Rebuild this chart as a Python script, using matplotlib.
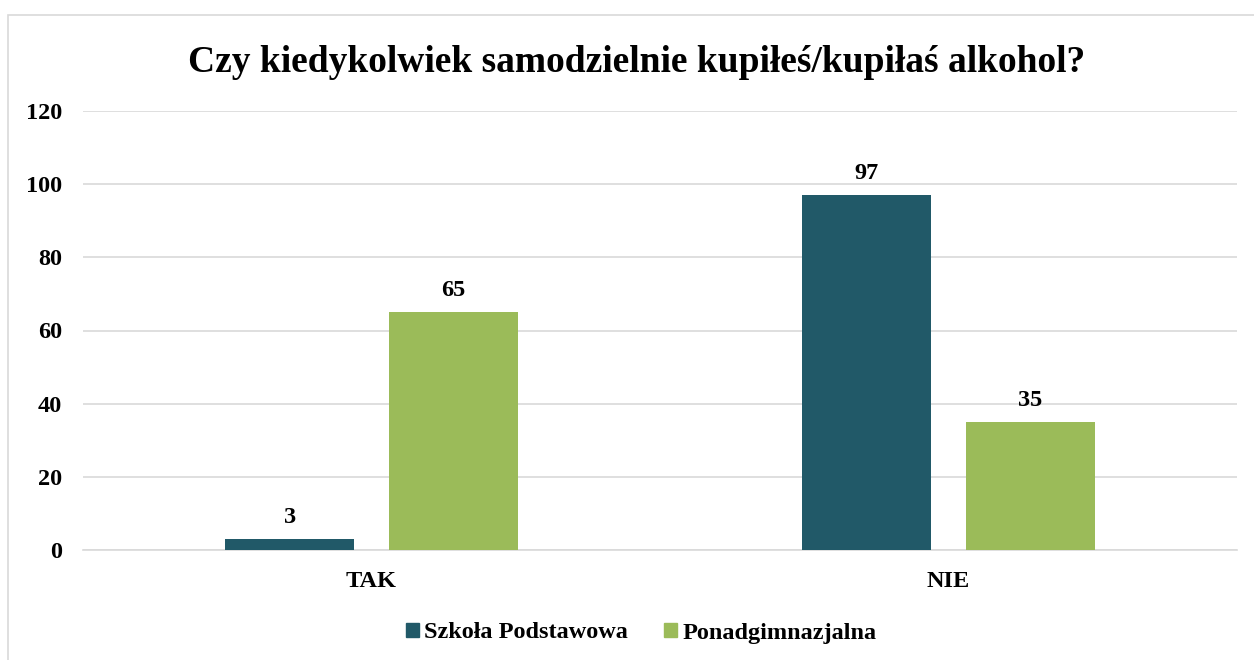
import matplotlib
matplotlib.use("Agg")
import matplotlib.pyplot as plt
from matplotlib.patches import Rectangle, Patch
import numpy as np

categories = ["TAK", "NIE"]
series_names = ["Szkoła Podstawowa", "Ponadgimnazjalna"]
szkola = [3, 97]
ponad = [65, 35]
yticks = [0, 20, 40, 60, 80, 100, 120]

colors = ["#215968", "#9BBB59"]
W, H = 1254, 660
fig = plt.figure(figsize=(W / 100, H / 100), dpi=100)
plt.rcParams['font.family'] = ['Liberation Serif', 'DejaVu Serif']
fs = 17.5

# outer frame
fig.patches.append(Rectangle((8 / W, -0.05), 1.2, 1 - 15 / H + 0.05, transform=fig.transFigure,
                             fill=False, edgecolor="#D9D9D9", linewidth=1.2))

ax = fig.add_axes([83 / W, 1 - 550 / H, (1237 - 83) / W, (550 - 111) / H])
x = np.arange(len(categories))
bw = 0.224
off = 0.142
for vals, c, o, name in [(szkola, colors[0], -off, series_names[0]), (ponad, colors[1], off, series_names[1])]:
    bars = ax.bar(x + o, vals, width=bw, color=c, zorder=3, label=name)
    for b, v in zip(bars, vals):
        ax.annotate(str(v), (b.get_x() + b.get_width() / 2, v), xytext=(0, 8), textcoords="offset points",
                    ha="center", va="bottom", fontsize=fs, fontweight="bold")

ax.set_xlim(-0.5, 1.5)
ax.set_ylim(0, 120)
ax.set_yticks(yticks)
ax.set_yticklabels([str(t) for t in yticks], fontsize=fs, fontweight="bold")
ax.set_xticks(x)
ax.set_xticklabels(categories, fontsize=fs, fontweight="bold")
ax.yaxis.grid(True, color="#D9D9D9", linewidth=1.2, zorder=0)
for s in ["top", "right", "left"]:
    ax.spines[s].set_visible(False)
ax.spines["bottom"].set_color("#D9D9D9")
ax.spines["bottom"].set_linewidth(1.2)
ax.tick_params(axis="both", length=0)
ax.tick_params(axis="y", pad=15)
ax.tick_params(axis="x", pad=15)

fig.text(637 / W, 1 - 62 / H, "Czy kiedykolwiek samodzielnie kupiłeś/kupiłaś alkohol?", ha="center", va="center",
         fontsize=27, fontweight="bold")

handles = [Patch(color=colors[0]), Patch(color=colors[1])]
fig.legend(handles, series_names, loc="center", bbox_to_anchor=(641 / W, 1 - 633 / H), ncol=2, frameon=False,
           prop={"size": fs, "weight": "bold"}, handlelength=0.55, handleheight=0.55, handletextpad=0.2,
           columnspacing=1.5)

fig.savefig("out.png", dpi=100)
